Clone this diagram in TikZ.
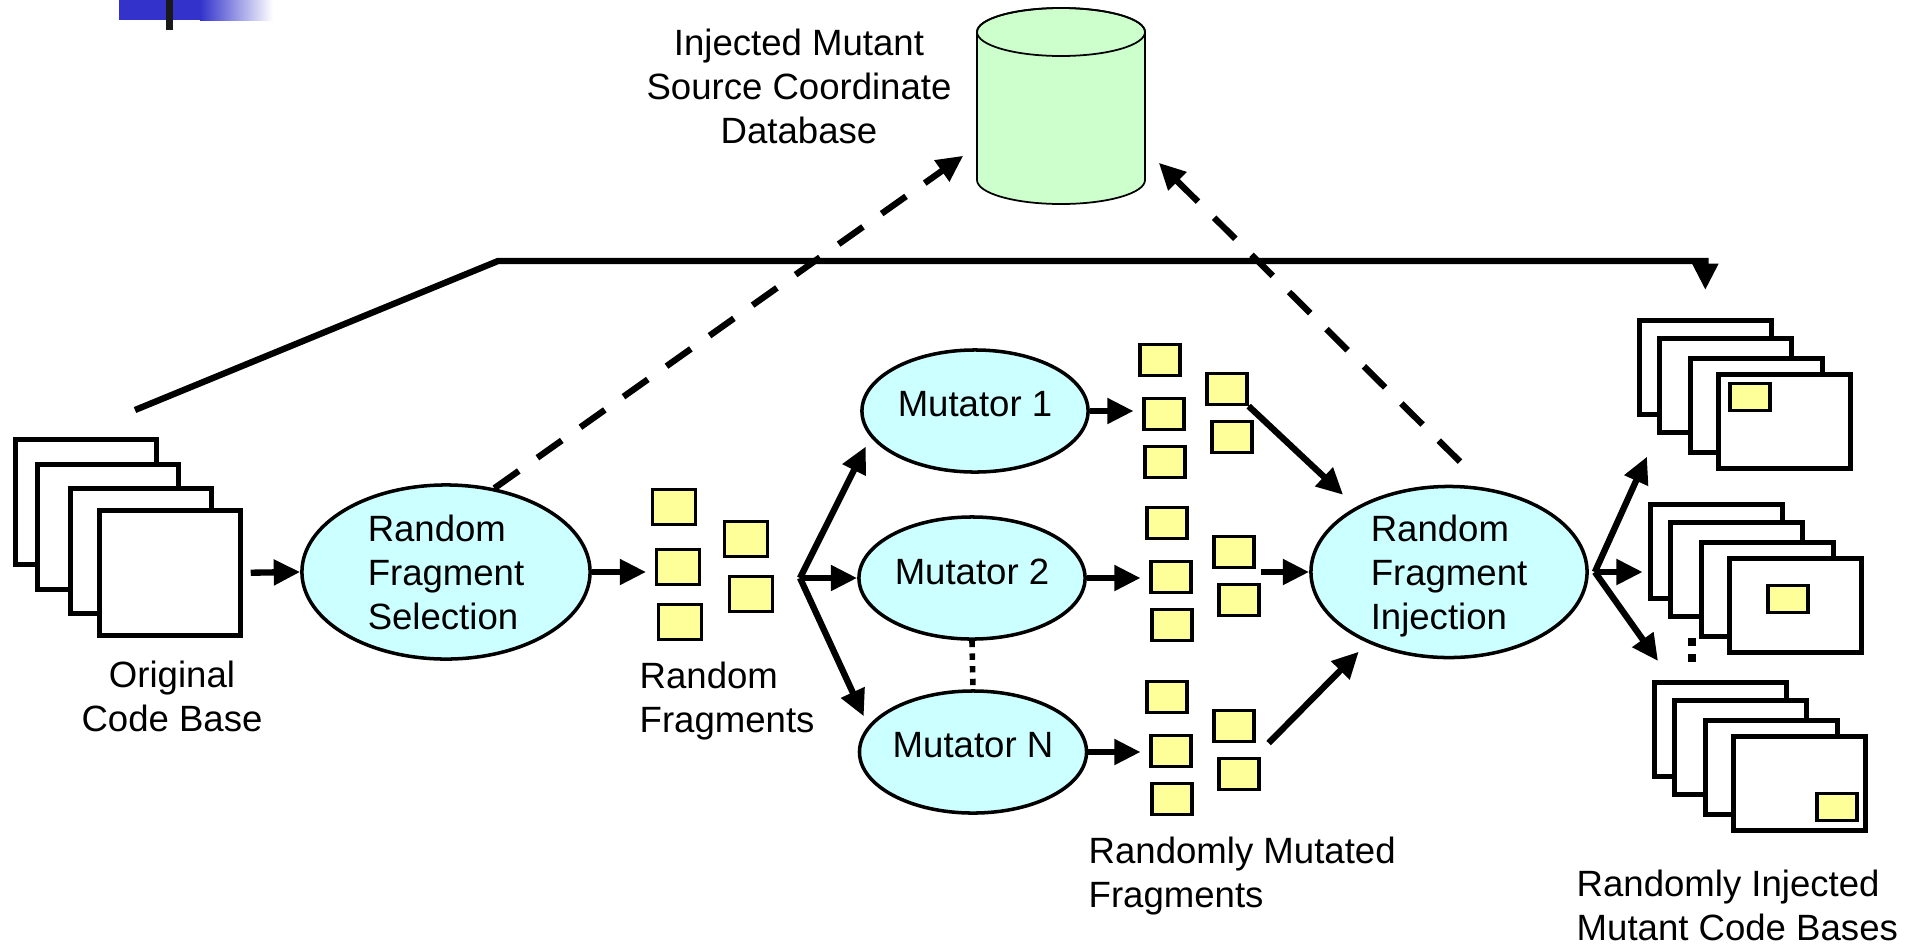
\documentclass[tikz,border=0pt]{standalone}
\usepackage{fontspec}
\setmainfont{Liberation Sans}
\usetikzlibrary{arrows.meta,shapes.geometric}

\definecolor{procCyan}{HTML}{CCFFFF}
\definecolor{fragYellow}{HTML}{FFFF99}
\definecolor{dbGreen}{HTML}{CCFFCC}
\definecolor{barBlue}{HTML}{3333CC}

\tikzset{
    every node/.style={font=\fontsize{10.4}{12.5}\selectfont},
    lbl/.style={inner sep=0pt},
    proc/.style={ellipse, draw, fill=procCyan, line width=1pt, inner sep=0pt},
    mutbox/.style={proc, minimum width=2.26cm, minimum height=1.22cm, text depth=3.8pt},
    frag/.style={draw, fill=fragYellow, line width=0.9pt, inner sep=0pt,
        minimum width=0.40cm, minimum height=0.31cm},
    page/.style={draw, fill=white, line width=1.3pt, inner sep=0pt, anchor=north west},
    flow/.style={line width=1.8pt, -{Triangle[length=7.5pt,width=7pt]}},
    dbflow/.style={flow, dash pattern=on 8.5pt off 6.5pt},
}

\begin{document}
\begin{tikzpicture}[x=0.01cm, y=-0.01cm]
    \useasboundingbox (0,0) rectangle (1925,948);

    % slide corner
    \fill[barBlue] (119,0) rectangle (200,20);
    \shade[left color=barBlue, right color=white] (200,0) rectangle (273,20);
    \fill[black!90] (166,0) rectangle (173,30);

    % database
    \node[minimum width=1.68cm, minimum height=1.96cm, inner sep=0pt] (db) at (1061,106) {};
    \filldraw[fill=dbGreen, line width=0.5pt] (977,32) -- (977,180)
        arc[start angle=180, end angle=0, x radius=84, y radius=24] -- (1145,32)
        arc[start angle=0, end angle=-180, x radius=84, y radius=24] -- cycle;
    \draw[line width=0.5pt] (1061,32) ellipse[x radius=84, y radius=24];
    \node[align=center] (dblbl) at (799,86) {Injected Mutant\\Source Coordinate\\Database};

    % original code base
    \foreach \dx/\dy [count=\i] in {0/0,22/25,55/49,84/71}
        \node[page, minimum width=1.41cm, minimum height=1.25cm] (orig-\i) at (13+\dx,437+\dy) {};
    \node[align=center] (origlbl) at (172,696) {Original\\Code Base};

    % selection
    \node[proc, minimum width=2.88cm, minimum height=1.74cm, align=left] (rfs) at (446,572)
        {Random\\Fragment\\Selection};
    \draw[flow, shorten <=2.3pt] (orig-4.east) -- (rfs.west);

    \foreach \x/\y [count=\i] in {674/507,678/567,680/622,746/539,751/594}
        \node[frag, minimum width=0.43cm, minimum height=0.35cm] (rf-\i) at (\x,\y) {};
    \draw[flow, shorten >=2.5pt] (rfs.east) -- (rfs.east -| rf-2.west);
    \node[lbl, anchor=west, align=left] (rflbl) at (639,701) {Random\\Fragments};

    % mutators
    \node[mutbox] (mut-1) at (975,411) {Mutator 1};
    \node[mutbox] (mut-2) at (972,578) {Mutator 2};
    \node[mutbox] (mut-N) at (973,752) {Mutator N};
    \draw[line width=1.6pt, dash pattern=on 1.8pt off 1.8pt] (mut-2.south) -- (mut-N.north);

    \coordinate (split) at (800,578);
    \draw[flow, shorten >=3pt] (split) -- (mut-1.194);
    \draw[flow] (split) -- (mut-2.west);
    \draw[flow, shorten >=3pt] (split) -- (mut-N.166);

    % mutated fragments
    \foreach \g/\gx/\gy in {1/1160/360, 2/1167/523, 3/1167/697} {
        \node[frag] (mf\g-1) at (\gx,\gy) {};
        \node[frag] (mf\g-2) at (\gx+4,\gy+54) {};
        \node[frag] (mf\g-3) at (\gx+5,\gy+102) {};
        \node[frag] (mf\g-4) at (\gx+67,\gy+29) {};
        \node[frag] (mf\g-5) at (\gx+72,\gy+77) {};
    }
    \foreach \g/\m in {1/1,2/2,3/N}
        \draw[flow, shorten >=2.5pt] (mut-\m.east) -- (mut-\m.east -| mf\g-2.west);
    \node[lbl, anchor=west, align=left] (mflbl) at (1088,876) {Randomly Mutated\\Fragments};

    % injection
    \node[proc, minimum width=2.76cm, minimum height=1.71cm, align=left] (rfi) at (1449,572)
        {Random\\Fragment\\\smash{Injection}};
    \draw[flow, shorten >=5pt] (mf1-4.south east) -- (rfi.145);
    \draw[flow] (rfi.west -| mf2-5.east) -- (rfi.west);
    \draw[flow, shorten >=3.5pt] ([xshift=0.13cm]mf3-4.south east) -- (rfi.221);

    % source coordinates
    \draw[dbflow] (rfs.60) -- ([shift={(-13,-49)}]db.south west);
    \draw[dbflow] ([shift={(11,-23)}]rfi.north) -- ([shift={(13,-42)}]db.south east);

    % injected code bases
    \foreach \s/\sx/\sy in {1/1637/318, 2/1648/502, 3/1652/680}
        \foreach \dx/\dy [count=\i] in {0/0,20/18,51/38,79/54}
            \node[page, minimum width=1.32cm, minimum height=0.94cm] (inj\s-\i) at (\sx+\dx,\sy+\dy) {};
    \node[frag, minimum height=0.27cm] (hit-1) at (1750,397) {};
    \node[frag, minimum height=0.27cm] (hit-2) at (1788,599) {};
    \node[frag, minimum height=0.27cm] (hit-3) at (1837,807) {};
    \foreach \y in {642,658}
        \fill (1688,\y-4) rectangle (1696,\y+4);

    \coordinate (fan) at ([xshift=0.06cm]rfi.east);
    \draw[flow] (fan) -- ([shift={(10,40)}]inj1-1.south west);
    \draw[flow, shorten >=1.5pt] (fan) -- (fan -| inj2-1.west);
    \draw[flow] (fan) -- ([shift={(6,-19)}]inj3-1.north west);
    \node[lbl, anchor=west, align=left] (injlbl) at (1576,905) {Randomly Injected\\Mutant Code Bases};

    % copy of the original code base
    \coordinate (bypass) at (135,410);
    \draw[flow] (bypass) -- (498,261) -| ([yshift=0.28cm]inj1-1.north);
\end{tikzpicture}
\end{document}
